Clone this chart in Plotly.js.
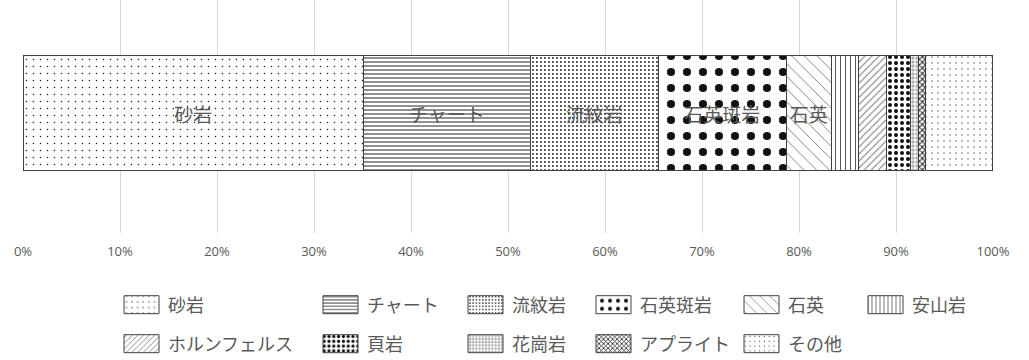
<!DOCTYPE html>
<html>
<head>
<meta charset="utf-8">
<script src="https://cdn.plot.ly/plotly-3.0.1.min.js"></script>
<style>
  html, body { margin: 0; padding: 0; background: #fff; }
  #chart { width: 1029px; height: 360px; }
</style>
</head>
<body>
<div id="chart"></div>
<script>
// 岩種ごとの割合 (%)
const rockTypes = ['砂岩', 'チャート', '流紋岩', '石英斑岩', '石英', '安山岩',
                   'ホルンフェルス', '頁岩', '花崗岩', 'アプライト', 'その他'];
const shares = [35.1, 17.2, 13.2, 13.2, 4.6, 2.8, 2.9, 2.5, 0.8, 0.7, 6.9];
const showLabel = [true, true, true, true, true, false, false, false, false, false, false];
const xTicks = [0, 10, 20, 30, 40, 50, 60, 70, 80, 90, 100];

// hatch styles (shape, tile size, solidity, colour)
const patShape = ['.', '-', '.', '.', '\\', '|', '/', '.', '+', 'x', '.'];
const patSize = [7, 4, 4, 16, 9, 5, 5, 6, 4, 4, 6];
const patSolid = [0.04, 0.25, 0.18, 0.2, 0.1, 0.2, 0.2, 0.35, 0.2, 0.45, 0.05];
const patColor = ['#222', '#222', '#222', '#111', '#777', '#555', '#777', '#111', '#333', '#222', '#555'];

// legend layout: text left edge and row centre, px
const legTextX = [168, 367, 512, 640, 788, 912, 168, 367, 512, 640, 788];
const legRowY = [305, 305, 305, 305, 305, 305, 344, 344, 344, 344, 344];
const ITEMW = 40;

const W = 1029, H = 360;
const font = '"Noto Sans CJK JP", "Noto Sans", sans-serif';

const traces = rockTypes.map(function(name, i) {
    return {
        type: 'bar',
        orientation: 'h',
        name: name,
        y: [0],
        x: [shares[i]],
        width: 0.495,
        text: [showLabel[i] ? name : ''],
        textposition: 'inside',
        insidetextanchor: 'middle',
        textangle: 0,
        textfont: {family: font, size: 19, color: '#595959'},
        hoverinfo: 'name+x',
        legend: i === 0 ? 'legend' : 'legend' + (i + 1),
        marker: {
            color: '#ffffff',
            line: {color: '#404040', width: 1},
            pattern: {
                shape: patShape[i],
                size: patSize[i],
                solidity: patSolid[i],
                fgcolor: patColor[i],
                fgopacity: 1,
                bgcolor: '#ffffff',
                fillmode: 'overlay'
            }
        }
    };
});

const layout = {
    width: W,
    height: H,
    margin: {l: 23, r: 36, t: 0, b: 127, autoexpand: false},
    paper_bgcolor: '#ffffff',
    plot_bgcolor: '#ffffff',
    barmode: 'stack',
    showlegend: true,
    font: {family: font, color: '#595959'},
    xaxis: {
        range: [0, 100],
        tickvals: xTicks,
        ticktext: xTicks.map(function(v) { return v + '%'; }),
        showgrid: true,
        gridcolor: '#d9d9d9',
        gridwidth: 1,
        zeroline: false,
        showline: false,
        ticks: '',
        ticklabelstandoff: 9,
        automargin: false,
        tickfont: {family: '"Open Sans", sans-serif', size: 13, color: '#595959'},
        fixedrange: true
    },
    yaxis: {
        range: [-0.515, 0.485],
        visible: false,
        fixedrange: true
    }
};

rockTypes.forEach(function(name, i) {
    const key = i === 0 ? 'legend' : 'legend' + (i + 1);
    layout[key] = {
        xref: 'container',
        yref: 'container',
        x: (legTextX[i] - ITEMW - 10) / W,
        y: 1 - legRowY[i] / H,
        xanchor: 'left',
        yanchor: 'middle',
        itemwidth: ITEMW,
        bgcolor: 'rgba(0,0,0,0)',
        borderwidth: 0,
        font: {family: font, size: 18, color: '#595959'}
    };
});

// widen the legend swatches to Excel-like rectangles
// (text class differs per legend: legendtext, legend2text, ...)
function widenSwatches(gd) {
    gd.querySelectorAll('g.traces').forEach(function(item) {
        const txt = item.querySelector('text');
        if (!txt) return;
        const tx = parseFloat(txt.getAttribute('x')) || (ITEMW + 10);
        const d = 'M' + (tx - 44) + ',-9H' + (tx - 9) + 'V9H' + (tx - 44) + 'Z';
        item.querySelectorAll('g.legendpoints path').forEach(function(sym) {
            if (sym.getAttribute('d') !== d) sym.setAttribute('d', d);
            if (sym.hasAttribute('transform')) sym.removeAttribute('transform');
        });
    });
}

Plotly.newPlot('chart', traces, layout, {displayModeBar: false}).then(function(gd) {
    widenSwatches(gd);
    gd.on('plotly_afterplot', function() { widenSwatches(gd); });
});
</script>
</body>
</html>
